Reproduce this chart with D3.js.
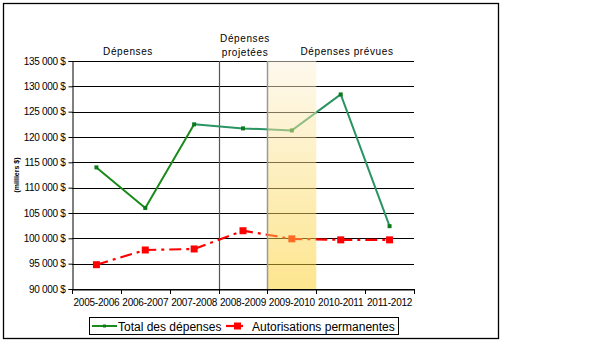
<!DOCTYPE html>
<html>
<head>
<meta charset="utf-8">
<script src="https://cdn.jsdelivr.net/npm/d3@7"></script>
<style>
  html, body { margin: 0; padding: 0; background: #fff; }
  svg { display: block; font-family: "Liberation Sans", Arial, sans-serif; }
</style>
</head>
<body>
<svg id="chart" width="589" height="341"></svg>
<script>
const categories = ["2005-2006", "2006-2007", "2007-2008", "2008-2009", "2009-2010", "2010-2011", "2011-2012"];
const totalDepenses = [114000, 106000, 122500, 121700, 121300, 128400, 102400];
const autorisations = [94800, 97700, 97900, 101500, 99900, 99700, 99700];
const yTicks = [90000, 95000, 100000, 105000, 110000, 115000, 120000, 125000, 130000, 135000];
const seriesNames = ["Total des dépenses", "Autorisations permanentes"];
const sectionLabels = [
  { lines: ["Dépenses"], cat: 0 },
  { lines: ["Dépenses", "projetées"], cat: 3 },
  { lines: ["Dépenses prévues"], cat: 5 }
];

const svg = d3.select("#chart");
const plot = { left: 72, right: 414, top: 61, bottom: 289 };

const x = d3.scaleBand().domain(categories).range([plot.left, plot.right]);
const y = d3.scaleLinear().domain([90000, 135000]).range([plot.bottom, plot.top]);
const cx = d => x(d) + x.bandwidth() / 2;

// outer border
svg.append("rect").attr("x", 3.5).attr("y", 3.5).attr("width", 495).attr("height", 335)
  .attr("fill", "#fff").attr("stroke", "#000").attr("stroke-width", 1.3);

// gridlines
svg.append("g").selectAll("line").data(yTicks).join("line")
  .attr("x1", plot.left).attr("x2", plot.right)
  .attr("y1", d => Math.round(y(d)) + 0.5).attr("y2", d => Math.round(y(d)) + 0.5)
  .attr("stroke", "#000").attr("stroke-width", 1);

// vertical separator lines
const b3 = x(categories[3]), b4 = x(categories[4]), b5 = x(categories[5]);
svg.append("line").attr("x1", Math.round(b3) + 0.5).attr("x2", Math.round(b3) + 0.5)
  .attr("y1", plot.top).attr("y2", plot.bottom).attr("stroke", "#555").attr("stroke-width", 1.2);

// y axis
const yAxis = d3.axisLeft(y).tickValues(yTicks).tickSize(4).tickPadding(3)
  .tickFormat(d => d3.format(",")(d).replace(",", " ") + " $");
const gy = svg.append("g").attr("transform", `translate(${plot.left + 0.5},0)`).call(yAxis);
gy.select(".domain").attr("stroke", "#000");
gy.selectAll(".tick line").attr("stroke", "#000");
gy.selectAll("text").attr("font-size", 10).attr("fill", "#000")
  .attr("font-family", "'Liberation Sans', Arial, sans-serif").attr("letter-spacing", "-0.3");

// x axis
const xAxis = d3.axisBottom(x).tickSize(0).tickPadding(9);
const gx = svg.append("g").attr("transform", `translate(0,${plot.bottom + 0.5})`).call(xAxis);
gx.select(".domain").attr("stroke", "#000");
gx.selectAll("text").attr("font-size", 10).attr("fill", "#000")
  .attr("font-family", "'Liberation Sans', Arial, sans-serif").attr("letter-spacing", "-0.2");
// boundary ticks
const bounds = categories.map(c => x(c)).concat([plot.right]);
svg.append("g").selectAll("line").data(bounds).join("line")
  .attr("x1", d => Math.round(d) + 0.5).attr("x2", d => Math.round(d) + 0.5)
  .attr("y1", plot.bottom).attr("y2", plot.bottom + 5).attr("stroke", "#000");

// y axis title
svg.append("text").attr("transform", "translate(19,175) rotate(-90)")
  .attr("text-anchor", "middle").attr("font-size", 7).attr("font-weight", "bold")
  .text("(milliers $)");

// green line (two tones)
const lineGen = d3.line().x(d => cx(d.c)).y(d => y(d.v));
const totalData = categories.map((c, i) => ({ c, v: totalDepenses[i] }));
svg.append("path").datum(totalData.slice(0, 3)).attr("d", lineGen)
  .attr("fill", "none").attr("stroke", "#1a8a1a").attr("stroke-width", 2);
svg.append("path").datum(totalData.slice(2)).attr("d", lineGen)
  .attr("fill", "none").attr("stroke", "#2a9462").attr("stroke-width", 2);
svg.append("g").selectAll("rect").data(totalData).join("rect")
  .attr("x", d => cx(d.c) - 2).attr("y", d => y(d.v) - 2).attr("width", 4).attr("height", 4)
  .attr("fill", "#0a7a1a");

// red dashed line
const autoData = categories.map((c, i) => ({ c, v: autorisations[i] }));
svg.append("path").datum(autoData).attr("d", lineGen)
  .attr("fill", "none").attr("stroke", "#ff0000").attr("stroke-width", 2.2)
  .attr("stroke-dasharray", "12,5,3,5");
svg.append("g").selectAll("rect").data(autoData).join("rect")
  .attr("x", d => cx(d.c) - 3.5).attr("y", d => y(d.v) - 3.5).attr("width", 7).attr("height", 7)
  .attr("fill", "#ff0000");

// shaded overlay (on top)
const defs = svg.append("defs");
const grad = defs.append("linearGradient").attr("id", "shade").attr("x1", 0).attr("x2", 0).attr("y1", 0).attr("y2", 1);
grad.append("stop").attr("offset", "0%").attr("stop-color", "rgb(252,242,220)").attr("stop-opacity", 0.5);
grad.append("stop").attr("offset", "100%").attr("stop-color", "rgb(251,204,30)").attr("stop-opacity", 0.5);
svg.append("rect").attr("x", b4).attr("y", plot.top).attr("width", b5 - b4).attr("height", plot.bottom - plot.top)
  .attr("fill", "url(#shade)");
svg.append("line").attr("x1", Math.round(b4) + 0.5).attr("x2", Math.round(b4) + 0.5)
  .attr("y1", plot.top).attr("y2", plot.bottom).attr("stroke", "#999").attr("stroke-width", 1.5);

// section labels
sectionLabels.forEach((s, k) => {
  const xs = [128, 245, 347][k];
  const t = svg.append("text").attr("text-anchor", "middle").attr("font-size", 10)
    .attr("letter-spacing", "0.6").attr("fill", "#000");
  const y0 = s.lines.length === 2 ? 42 : 55;
  s.lines.forEach((ln, j) => {
    t.append("tspan").attr("x", xs).attr("y", y0 + j * 13.5).text(ln);
  });
});

// legend
const lg = svg.append("g");
lg.append("rect").attr("x", 89.5).attr("y", 317.5).attr("width", 309).attr("height", 17)
  .attr("fill", "#fff").attr("stroke", "#000").attr("stroke-width", 1);
lg.append("line").attr("x1", 92).attr("x2", 117).attr("y1", 326).attr("y2", 326)
  .attr("stroke", "#1a8a1a").attr("stroke-width", 2);
lg.append("rect").attr("x", 103).attr("y", 324.5).attr("width", 3).attr("height", 3).attr("fill", "#0a7a1a");
lg.append("text").attr("x", 118).attr("y", 330.5).attr("font-size", 12).text(seriesNames[0]);
lg.append("line").attr("x1", 226).attr("x2", 243).attr("y1", 326).attr("y2", 326)
  .attr("stroke", "#ff0000").attr("stroke-width", 2.2);
lg.append("rect").attr("x", 234).attr("y", 322.5).attr("width", 7).attr("height", 7).attr("fill", "#ff0000");
lg.append("text").attr("x", 252).attr("y", 330.5).attr("font-size", 12).text(seriesNames[1]);
</script>
</body>
</html>
